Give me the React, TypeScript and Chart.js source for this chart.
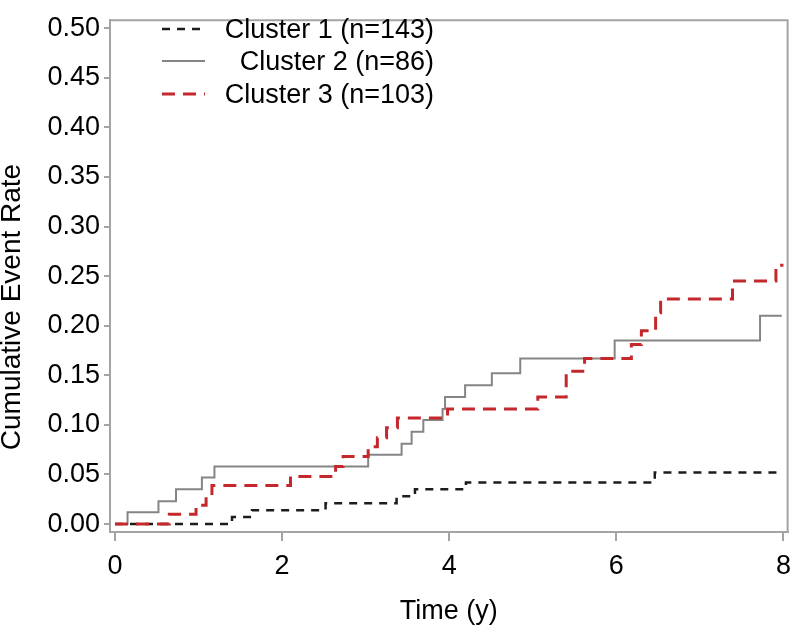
import { useEffect, useRef } from "react";
import { Chart, registerables } from "chart.js";

Chart.register(...registerables);

// ---- data ----
const cluster1Times = [0, 1.40, 1.64, 2.52, 3.37, 3.59, 4.20, 6.46, 8.0];
const cluster1Rates = [0, 0.007, 0.014, 0.021, 0.028, 0.035, 0.042, 0.052, 0.052];

const cluster2Times = [0, 0.15, 0.52, 0.73, 1.04, 1.19, 3.03, 3.43, 3.55, 3.69, 3.92, 3.95, 4.19, 4.51, 4.85, 5.98, 7.72, 7.98];
const cluster2Rates = [0, 0.012, 0.023, 0.035, 0.047, 0.058, 0.070, 0.081, 0.093, 0.105, 0.116, 0.128, 0.140, 0.152, 0.167, 0.185, 0.210, 0.210];

const cluster3Times = [0, 0.65, 0.97, 1.09, 1.16, 2.10, 2.64, 2.73, 3.03, 3.14, 3.25, 3.38, 3.98, 5.06, 5.40, 5.62, 6.18, 6.30, 6.47, 6.53, 7.39, 7.91, 8.0];
const cluster3Rates = [0, 0.010, 0.019, 0.029, 0.039, 0.048, 0.058, 0.068, 0.078, 0.087, 0.097, 0.107, 0.116, 0.128, 0.154, 0.167, 0.181, 0.195, 0.213, 0.227, 0.245, 0.261, 0.261];

const seriesLabels = ["Cluster 1 (n=143)", "Cluster 2 (n=86)", "Cluster 3 (n=103)"];
const yTickValues = [0, 0.05, 0.1, 0.15, 0.2, 0.25, 0.3, 0.35, 0.4, 0.45, 0.5];
const xTickValues = [0, 2, 4, 6, 8];
const yAxisTitle = "Cumulative Event Rate";
const xAxisTitle = "Time (y)";

const FONT = "'Liberation Sans', Arial, sans-serif";
const FRAME = "#a4a4a4";
const styles = [
  { color: "#1c1c1c", dash: [8, 7], width: 2.5 },
  { color: "#858585", dash: [] as number[], width: 2 },
  { color: "#c4282c", dash: [13, 8], width: 3 },
];

const toPoints = (t: number[], v: number[]) => t.map((x, i) => ({ x, y: v[i] }));

const framePlugin = {
  id: "frame",
  afterDraw(chart: any) {
    const { ctx, chartArea } = chart;
    ctx.save();
    ctx.strokeStyle = FRAME;
    ctx.lineWidth = 2;
    ctx.beginPath();
    ctx.moveTo(chartArea.left, chartArea.top);
    ctx.lineTo(chartArea.right, chartArea.top);
    ctx.lineTo(chartArea.right, chartArea.bottom);
    ctx.stroke();
    ctx.restore();
  },
};

const yTitlePlugin = {
  id: "yTitle",
  afterDraw(chart: any) {
    const { ctx } = chart;
    ctx.save();
    ctx.translate(12, 307);
    ctx.rotate(-Math.PI / 2);
    ctx.font = `28px ${FONT}`;
    ctx.fillStyle = "#000";
    ctx.textAlign = "center";
    ctx.textBaseline = "middle";
    ctx.fillText(yAxisTitle, 0, 0);
    ctx.restore();
  },
};

const legendPlugin = {
  id: "insideLegend",
  afterDraw(chart: any) {
    const { ctx } = chart;
    const rows = [29, 61, 94];
    ctx.save();
    seriesLabels.forEach((label, i) => {
      const s = styles[i];
      const y = rows[i];
      ctx.strokeStyle = s.color;
      ctx.lineWidth = s.width;
      ctx.setLineDash(s.dash);
      ctx.beginPath();
      ctx.moveTo(162, y);
      ctx.lineTo(205, y);
      ctx.stroke();
      ctx.setLineDash([]);
      ctx.font = `27px ${FONT}`;
      ctx.fillStyle = "#000";
      ctx.textAlign = "right";
      ctx.textBaseline = "middle";
      ctx.fillText(label, 434, y + 2);
    });
    ctx.restore();
  },
};

export default function App() {
  const ref = useRef<HTMLCanvasElement>(null);

  useEffect(() => {
    document.body.style.margin = "0";
    const canvas = ref.current;
    if (!canvas) return;
    const series = [
      toPoints(cluster1Times, cluster1Rates),
      toPoints(cluster2Times, cluster2Rates),
      toPoints(cluster3Times, cluster3Rates),
    ];
    const orders = [1, 2, 0];
    const chart = new Chart(canvas, {
      type: "line",
      data: {
        datasets: series.map((data, i) => ({
          label: seriesLabels[i],
          data,
          stepped: "before" as const,
          borderColor: styles[i].color,
          borderWidth: styles[i].width,
          borderDash: styles[i].dash,
          pointRadius: 0,
          fill: false,
          order: orders[i],
        })),
      },
      options: {
        responsive: false,
        animation: false,
        layout: { padding: { top: 7, right: 8, left: 0, bottom: 0 } },
        plugins: {
          legend: { display: false },
          tooltip: { enabled: false },
        },
        scales: {
          x: {
            type: "linear",
            min: -0.06,
            max: 8.05,
            afterBuildTicks: (scale: any) => {
              scale.ticks = xTickValues.map((v) => ({ value: v }));
            },
            afterFit: (scale: any) => {
              scale.height = 100;
            },
            ticks: {
              font: { family: FONT, size: 27 },
              color: "#000",
              padding: 9,
              maxRotation: 0,
              callback: (v: any) => String(v),
            },
            grid: {
              drawOnChartArea: false,
              drawTicks: true,
              tickLength: 9,
              color: FRAME,
              lineWidth: 2,
            },
            border: { display: true, color: FRAME, width: 2 },
            title: {
              display: true,
              text: xAxisTitle,
              font: { family: FONT, size: 27 },
              color: "#000",
              padding: { top: 0, bottom: 4 },
            },
          },
          y: {
            type: "linear",
            min: -0.008,
            max: 0.508,
            afterBuildTicks: (scale: any) => {
              scale.ticks = yTickValues.map((v) => ({ value: v }));
            },
            afterFit: (scale: any) => {
              scale.width = 110;
            },
            ticks: {
              font: { family: FONT, size: 27 },
              color: "#000",
              padding: 4,
              callback: (v: any) => Number(v).toFixed(2),
            },
            grid: {
              drawOnChartArea: false,
              drawTicks: true,
              tickLength: 6,
              color: FRAME,
              lineWidth: 2,
            },
            border: { display: true, color: FRAME, width: 2 },
          },
        },
      },
      plugins: [framePlugin, yTitlePlugin, legendPlugin],
    } as any);
    return () => chart.destroy();
  }, []);

  return (
    <div style={{ width: 800, height: 632, background: "#fff" }}>
      <canvas ref={ref} width={800} height={632} style={{ display: "block" }} />
    </div>
  );
}
